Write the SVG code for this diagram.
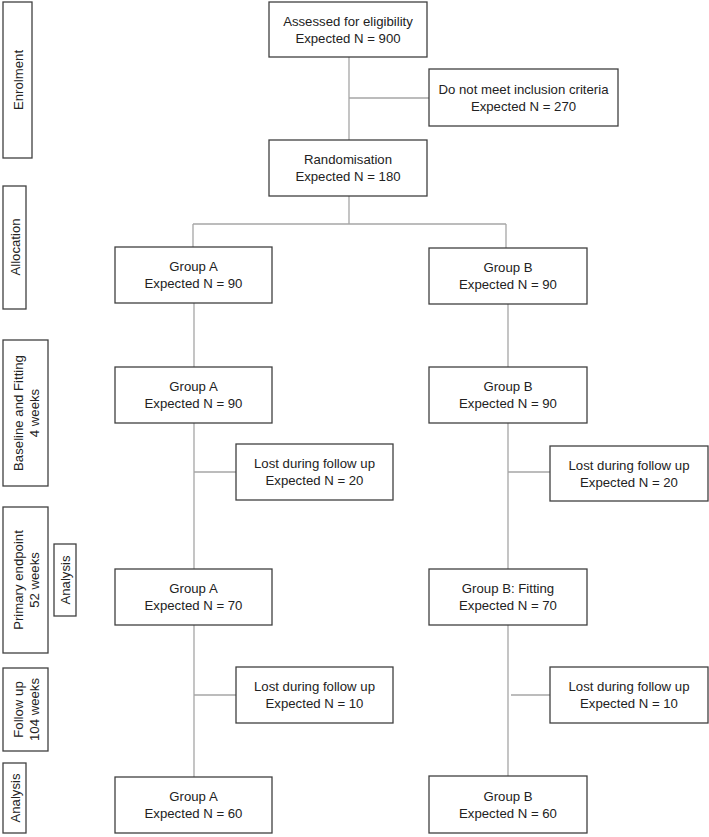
<svg xmlns="http://www.w3.org/2000/svg" width="709" height="837" viewBox="0 0 709 837">
<style>
.box{fill:#fff;stroke:#404040;stroke-width:1.3}
.t{font-family:"Liberation Sans",Arial,sans-serif;font-size:13.2px;fill:#222;text-anchor:middle;dominant-baseline:central}
.c{stroke:#a6a6a6;stroke-width:1.3;fill:none}
</style>
<rect width="709" height="837" fill="#fff"/>
<g id="connectors">
<path class="c" d="M349 57V140M349 98H429M349 196V224M193 224H506M193 224V247M506 224V248"/>
<path class="c" d="M194 303V367M194 423V569M194 472H236M194 625V777M194 695H236"/>
<path class="c" d="M508 304V367M508 423V569M508 472H550M508 625V776M511 695H552"/>
</g>
<g id="lab-enrolment"><rect class="box" x="3" y="2" width="29" height="156"/><text class="t" transform="translate(18,80) rotate(-90)">Enrolment</text></g>
<g id="lab-allocation"><rect class="box" x="3" y="186" width="23" height="123"/><text class="t" transform="translate(15,247) rotate(-90)">Allocation</text></g>
<g id="lab-baseline"><rect class="box" x="3" y="340" width="45" height="146"/><text class="t" transform="translate(25.5,413) rotate(-90)"><tspan x="0" y="-8">Baseline and Fitting</tspan><tspan x="0" y="8">4 weeks</tspan></text></g>
<g id="lab-primary"><rect class="box" x="3" y="507" width="45" height="146"/><text class="t" transform="translate(25.5,580) rotate(-90)"><tspan x="0" y="-8">Primary endpoint</tspan><tspan x="0" y="8">52 weeks</tspan></text></g>
<g id="lab-analysis1"><rect class="box" x="54" y="544" width="22" height="72"/><text class="t" transform="translate(65,580) rotate(-90)">Analysis</text></g>
<g id="lab-followup"><rect class="box" x="3" y="668" width="45" height="83"/><text class="t" transform="translate(25.5,709.5) rotate(-90)"><tspan x="0" y="-8">Follow up</tspan><tspan x="0" y="8">104 weeks</tspan></text></g>
<g id="lab-analysis2"><rect class="box" x="3" y="763" width="23" height="70"/><text class="t" transform="translate(15,798) rotate(-90)">Analysis</text></g>
<g id="assessed"><rect class="box" x="269" y="2" width="158" height="55"/><text class="t" x="348" y="21">Assessed for eligibility</text><text class="t" x="348" y="38">Expected N = 900</text></g>
<g id="excluded"><rect class="box" x="429" y="69" width="189" height="57"/><text class="t" x="523.5" y="89">Do not meet inclusion criteria</text><text class="t" x="523.5" y="106">Expected N = 270</text></g>
<g id="random"><rect class="box" x="269" y="140" width="158" height="56"/><text class="t" x="348" y="159.5">Randomisation</text><text class="t" x="348" y="176.5">Expected N = 180</text></g>
<g id="allocA"><rect class="box" x="115" y="247" width="157" height="56"/><text class="t" x="193.5" y="266.5">Group A</text><text class="t" x="193.5" y="283.5">Expected N = 90</text></g>
<g id="allocB"><rect class="box" x="429" y="248" width="158" height="56"/><text class="t" x="508" y="267.5">Group B</text><text class="t" x="508" y="284.5">Expected N = 90</text></g>
<g id="baseA"><rect class="box" x="115" y="367" width="157" height="56"/><text class="t" x="193.5" y="386.5">Group A</text><text class="t" x="193.5" y="403.5">Expected N = 90</text></g>
<g id="baseB"><rect class="box" x="429" y="367" width="158" height="56"/><text class="t" x="508" y="386.5">Group B</text><text class="t" x="508" y="403.5">Expected N = 90</text></g>
<g id="lostA1"><rect class="box" x="236" y="444" width="157" height="56"/><text class="t" x="314.5" y="463.5">Lost during follow up</text><text class="t" x="314.5" y="480.5">Expected N = 20</text></g>
<g id="lostB1"><rect class="box" x="550" y="446" width="158" height="55"/><text class="t" x="629" y="465">Lost during follow up</text><text class="t" x="629" y="482">Expected N = 20</text></g>
<g id="primA"><rect class="box" x="115" y="569" width="157" height="56"/><text class="t" x="193.5" y="588.5">Group A</text><text class="t" x="193.5" y="605.5">Expected N = 70</text></g>
<g id="primB"><rect class="box" x="429" y="569" width="158" height="56"/><text class="t" x="508" y="588.5">Group B: Fitting</text><text class="t" x="508" y="605.5">Expected N = 70</text></g>
<g id="lostA2"><rect class="box" x="236" y="667" width="157" height="56"/><text class="t" x="314.5" y="686.5">Lost during follow up</text><text class="t" x="314.5" y="703.5">Expected N = 10</text></g>
<g id="lostB2"><rect class="box" x="550" y="667" width="158" height="56"/><text class="t" x="629" y="686.5">Lost during follow up</text><text class="t" x="629" y="703.5">Expected N = 10</text></g>
<g id="finalA"><rect class="box" x="115" y="777" width="157" height="56"/><text class="t" x="193.5" y="796.5">Group A</text><text class="t" x="193.5" y="813.5">Expected N = 60</text></g>
<g id="finalB"><rect class="box" x="429" y="776" width="158" height="57"/><text class="t" x="508" y="796">Group B</text><text class="t" x="508" y="813">Expected N = 60</text></g>
</svg>
